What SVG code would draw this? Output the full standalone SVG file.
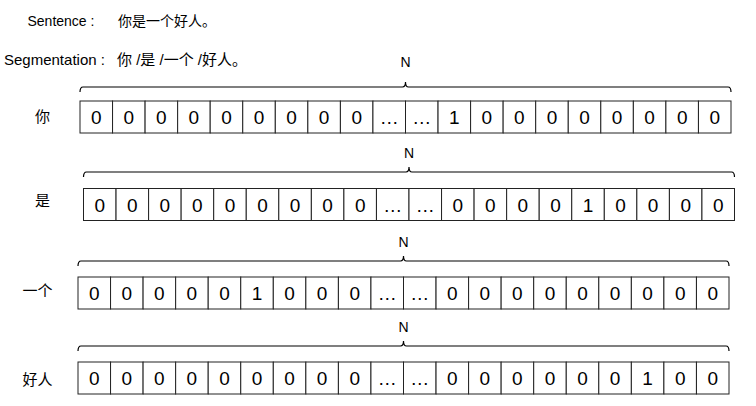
<svg xmlns="http://www.w3.org/2000/svg" xmlns:xlink="http://www.w3.org/1999/xlink" width="756" height="406" viewBox="0 0 756 406">
<style>
text{font-family:"Liberation Sans","Noto Sans CJK SC",sans-serif;fill:#000}
.hd{font-size:14px}
.hd2{font-size:15px}
.lb{font-size:15px;text-anchor:middle}
.n{font-size:14px;text-anchor:middle}
.d{font-size:19px;text-anchor:middle}
.cell{fill:#fff;stroke:#222;stroke-width:1}
.brace{fill:none;stroke:#000;stroke-width:1.2}
</style>
<defs>
<g id="cells">
<rect class="cell" x="0" y="0" width="32.55" height="32"/>
<rect class="cell" x="32.55" y="0" width="32.55" height="32"/>
<rect class="cell" x="65.1" y="0" width="32.55" height="32"/>
<rect class="cell" x="97.65" y="0" width="32.55" height="32"/>
<rect class="cell" x="130.2" y="0" width="32.55" height="32"/>
<rect class="cell" x="162.75" y="0" width="32.55" height="32"/>
<rect class="cell" x="195.3" y="0" width="32.55" height="32"/>
<rect class="cell" x="227.85" y="0" width="32.55" height="32"/>
<rect class="cell" x="260.4" y="0" width="32.55" height="32"/>
<rect class="cell" x="292.95" y="0" width="32.55" height="32"/>
<rect class="cell" x="325.5" y="0" width="32.55" height="32"/>
<rect class="cell" x="358.05" y="0" width="32.55" height="32"/>
<rect class="cell" x="390.6" y="0" width="32.55" height="32"/>
<rect class="cell" x="423.15" y="0" width="32.55" height="32"/>
<rect class="cell" x="455.7" y="0" width="32.55" height="32"/>
<rect class="cell" x="488.25" y="0" width="32.55" height="32"/>
<rect class="cell" x="520.8" y="0" width="32.55" height="32"/>
<rect class="cell" x="553.35" y="0" width="32.55" height="32"/>
<rect class="cell" x="585.9" y="0" width="32.55" height="32"/>
<rect class="cell" x="618.45" y="0" width="32.55" height="32"/>
</g>
<path id="br" class="brace" d="M0,5 Q0,0 3,0 H322.5 Q325.5,0 325.5,-5 Q325.5,0 328.5,0 H648 Q651,0 651,5"/>
</defs>

<g id="header">
<text class="hd" x="27.5" y="26">Sentence :</text>
<text class="hd" x="118" y="26">你是一个好人。</text>
<text class="hd2" x="4" y="65">Segmentation :</text>
<text class="hd2" x="117" y="65">你 /是 /一个 /好人。</text>
</g>

<g id="connectors">
<use xlink:href="#br" href="#br" transform="translate(80,87)"/>
<use xlink:href="#br" href="#br" transform="translate(83.5,172)"/>
<use xlink:href="#br" href="#br" transform="translate(78,261)"/>
<use xlink:href="#br" href="#br" transform="translate(78,346)"/>
</g>

<g id="row1">
<text class="lb" x="42.5" y="122">你</text>
<text class="n" x="405.5" y="67">N</text>
<g transform="translate(80,101)">
<use xlink:href="#cells" href="#cells"/>
<text class="d" x="16.3" y="23">0</text><text class="d" x="48.8" y="23">0</text><text class="d" x="81.4" y="23">0</text><text class="d" x="113.9" y="23">0</text><text class="d" x="146.5" y="23">0</text><text class="d" x="179" y="23">0</text><text class="d" x="211.6" y="23">0</text><text class="d" x="244.1" y="23">0</text><text class="d" x="276.7" y="23">0</text><text class="d" x="309.2" y="23">…</text><text class="d" x="341.8" y="23">…</text><text class="d" x="374.3" y="23">1</text><text class="d" x="406.9" y="23">0</text><text class="d" x="439.4" y="23">0</text><text class="d" x="472" y="23">0</text><text class="d" x="504.5" y="23">0</text><text class="d" x="537.1" y="23">0</text><text class="d" x="569.6" y="23">0</text><text class="d" x="602.2" y="23">0</text><text class="d" x="634.7" y="23">0</text>
</g>
</g>

<g id="row2">
<text class="lb" x="42.5" y="206">是</text>
<text class="n" x="409" y="158">N</text>
<g transform="translate(83.5,188.5)">
<use xlink:href="#cells" href="#cells"/>
<text class="d" x="16.3" y="23">0</text><text class="d" x="48.8" y="23">0</text><text class="d" x="81.4" y="23">0</text><text class="d" x="113.9" y="23">0</text><text class="d" x="146.5" y="23">0</text><text class="d" x="179" y="23">0</text><text class="d" x="211.6" y="23">0</text><text class="d" x="244.1" y="23">0</text><text class="d" x="276.7" y="23">0</text><text class="d" x="309.2" y="23">…</text><text class="d" x="341.8" y="23">…</text><text class="d" x="374.3" y="23">0</text><text class="d" x="406.9" y="23">0</text><text class="d" x="439.4" y="23">0</text><text class="d" x="472" y="23">0</text><text class="d" x="504.5" y="23">1</text><text class="d" x="537.1" y="23">0</text><text class="d" x="569.6" y="23">0</text><text class="d" x="602.2" y="23">0</text><text class="d" x="634.7" y="23">0</text>
</g>
</g>

<g id="row3">
<text class="lb" x="37.5" y="296">一个</text>
<text class="n" x="403.5" y="247">N</text>
<g transform="translate(78,277)">
<use xlink:href="#cells" href="#cells"/>
<text class="d" x="16.3" y="23">0</text><text class="d" x="48.8" y="23">0</text><text class="d" x="81.4" y="23">0</text><text class="d" x="113.9" y="23">0</text><text class="d" x="146.5" y="23">0</text><text class="d" x="179" y="23">1</text><text class="d" x="211.6" y="23">0</text><text class="d" x="244.1" y="23">0</text><text class="d" x="276.7" y="23">0</text><text class="d" x="309.2" y="23">…</text><text class="d" x="341.8" y="23">…</text><text class="d" x="374.3" y="23">0</text><text class="d" x="406.9" y="23">0</text><text class="d" x="439.4" y="23">0</text><text class="d" x="472" y="23">0</text><text class="d" x="504.5" y="23">0</text><text class="d" x="537.1" y="23">0</text><text class="d" x="569.6" y="23">0</text><text class="d" x="602.2" y="23">0</text><text class="d" x="634.7" y="23">0</text>
</g>
</g>

<g id="row4">
<text class="lb" x="37.5" y="385">好人</text>
<text class="n" x="403.5" y="332">N</text>
<g transform="translate(78,362)">
<use xlink:href="#cells" href="#cells"/>
<text class="d" x="16.3" y="23">0</text><text class="d" x="48.8" y="23">0</text><text class="d" x="81.4" y="23">0</text><text class="d" x="113.9" y="23">0</text><text class="d" x="146.5" y="23">0</text><text class="d" x="179" y="23">0</text><text class="d" x="211.6" y="23">0</text><text class="d" x="244.1" y="23">0</text><text class="d" x="276.7" y="23">0</text><text class="d" x="309.2" y="23">…</text><text class="d" x="341.8" y="23">…</text><text class="d" x="374.3" y="23">0</text><text class="d" x="406.9" y="23">0</text><text class="d" x="439.4" y="23">0</text><text class="d" x="472" y="23">0</text><text class="d" x="504.5" y="23">0</text><text class="d" x="537.1" y="23">0</text><text class="d" x="569.6" y="23">1</text><text class="d" x="602.2" y="23">0</text><text class="d" x="634.7" y="23">0</text>
</g>
</g>
</svg>
